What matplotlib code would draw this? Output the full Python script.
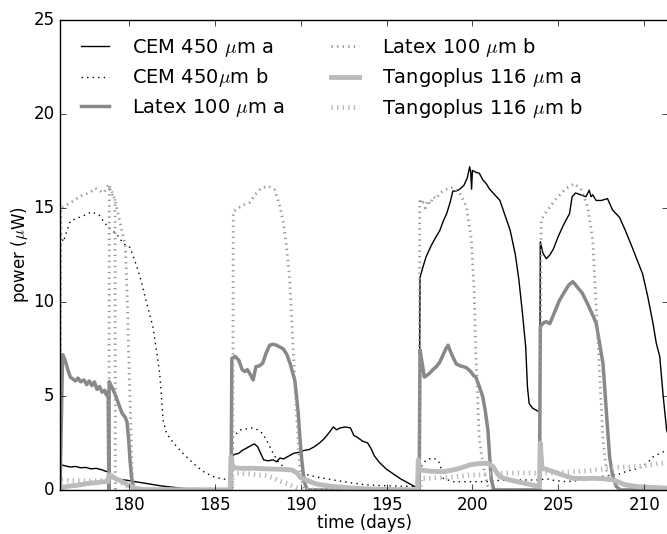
import numpy as np
import matplotlib
matplotlib.use('Agg')
import matplotlib.pyplot as plt

plt.style.use('classic')
plt.rcParams['font.family'] = 'DejaVu Sans'

nan = np.nan

# CEM 450 um a
t_cem_a = [176.0, 176.3, 176.6, 176.9, 177.2, 177.5, 177.8, 178.1, 178.4, 178.7, 178.8, 178.85,
           179.2, 179.6, 180.0, 180.5, 181.0, 181.5, 182.0, 182.5, 183.0, 183.5, 184.0, 185.9, 186.0,
           186.05, 186.2, 186.4, 186.6, 186.8, 187.0, 187.3, 187.5, 187.7, 187.85, 188.1, 188.4, 188.6,
           188.8, 189.0, 189.3, 189.6, 189.9, 190.2, 190.5, 190.8, 191.1, 191.4, 191.7, 191.9, 192.1,
           192.3, 192.6, 192.9, 193.1, 193.3, 193.6, 193.9, 194.1, 194.3, 194.6, 195.0, 195.4, 195.8,
           196.2, 196.6, 196.9, 196.95, 197.1, 197.3, 197.6, 197.9, 198.1, 198.3, 198.5, 198.7, 198.86,
           199.05, 199.26, 199.5, 199.7, 199.84, 199.9, 199.95, 200.0, 200.2, 200.4, 200.6, 200.8, 201.0,
           201.3, 201.6, 201.9, 202.2, 202.5, 202.7, 202.9, 203.1, 203.2, 203.3, 203.5, 203.8, 203.92,
           203.95, 204.1, 204.3, 204.5, 204.7, 205.0, 205.3, 205.65, 205.8, 206.0, 206.3, 206.6, 206.8,
           206.9, 207.0, 207.2, 207.5, 207.86, 208.15, 208.56, 208.9, 209.3, 209.6, 209.9, 210.2, 210.5,
           210.7, 210.9, 211.1, 211.3, 211.5]
p_cem_a = [1.35, 1.28, 1.22, 1.25, 1.18, 1.2, 1.12, 1.15, 1.08, 0.98, 1.0, 0.65,
           0.6, 0.55, 0.5, 0.42, 0.35, 0.27, 0.2, 0.15, 0.1, 0.05, 0.02, 0.0, 0.0,
           1.85, 1.9, 1.95, 2.1, 2.2, 2.3, 2.45, 2.3, 1.9, 1.6, 1.55, 1.6, 1.5,
           1.7, 1.65, 1.8, 1.95, 2.0, 2.1, 2.15, 2.3, 2.5, 2.75, 3.1, 3.35, 3.2,
           3.3, 3.35, 3.3, 2.9, 2.8, 2.6, 2.5, 2.2, 1.8, 1.45, 1.1, 0.85, 0.6,
           0.4, 0.2, 0.1, 11.3, 11.8, 12.4, 13.0, 13.5, 13.8, 14.3, 14.7, 15.3, 15.9,
           15.9, 16.0, 16.2, 16.6, 17.2, 16.9, 16.0, 17.0, 16.9, 16.85, 16.5, 16.3, 16.0,
           15.7, 15.4, 14.6, 13.8, 12.5, 11.2, 9.5, 7.6, 5.5, 4.6, 4.35, 4.2, 4.2,
           13.2, 12.6, 12.3, 12.5, 12.8, 13.5, 14.1, 14.7, 15.6, 15.8, 15.7, 15.6, 15.95,
           15.6, 15.7, 15.4, 15.4, 15.5, 14.9, 14.5, 13.8, 12.9, 12.2, 11.5, 10.3, 8.9,
           7.8, 7.1, 5.0, 3.2, 2.6]

# CEM 450 um b
t_cem_b = [176.02, 176.2, 176.4, 176.6, 176.97, 177.4, 177.84, 178.3, 178.6, 178.9, 179.3, 179.7,
           180.07, 180.35, 180.65, 181.0, 181.4, 181.6, 181.8, 181.9, 182.0, 182.2, 182.6, 183.2,
           183.75, 184.3, 184.9, 185.4, 185.9, 186.0, 186.08, 186.5, 186.9, 187.2, 187.5, 187.8,
           188.1, 188.4, 188.7, 189.0, 189.5, 190.0, 190.9, 191.9, 192.8, 193.8, 195.0, 196.7,
           196.9, 197.0, 197.3, 197.7, 197.95, 198.1, 198.3, 198.85, 200.8, 201.3, 202.5, 203.9,
           204.3, 204.8, 205.46, 206.2, 207.0, 207.8, 208.56, 209.0, 209.7, 210.2, 210.5, 210.9,
           211.3, 211.5]
p_cem_b = [13.6, 13.2, 13.8, 14.3, 14.45, 14.6, 14.8, 14.6, 14.2, 13.9, 13.6, 13.1,
           12.9, 12.2, 11.35, 10.1, 8.7, 7.5, 6.2, 5.0, 3.7, 3.0, 2.5, 1.9,
           1.42, 1.0, 0.71, 0.6, 0.53, 0.53, 2.84, 3.2, 3.25, 3.3, 3.2, 3.0,
           2.5, 1.95, 1.5, 1.24, 1.0, 0.89, 0.7, 0.53, 0.4, 0.27, 0.22, 0.18,
           0.18, 1.2, 1.6, 1.7, 1.6, 1.42, 0.62, 0.44, 0.44, 0.5, 0.53, 0.53,
           0.6, 0.5, 0.44, 0.5, 0.65, 0.75, 0.85, 1.0, 1.15, 1.45, 1.75, 1.95,
           2.1, 2.2]

# Latex 100 um a
t_lat_a = [176.0, 176.15, 176.3, 176.45, 176.6, 176.75, 176.9, 177.05, 177.2, 177.4, 177.55, 177.7,
           177.85, 178.0, 178.15, 178.3, 178.45, 178.6, 178.7, 178.8, 178.84, 178.86, 179.0, 179.2,
           179.4, 179.6, 179.8, 179.9, 180.0, 180.07, 180.17, 180.26, 180.4, 185.95, 186.0, 186.2,
           186.4, 186.6, 186.76, 186.9, 187.1, 187.24, 187.4, 187.6, 187.8, 188.0, 188.2, 188.4,
           188.6, 188.8, 189.0, 189.2, 189.4, 189.55, 189.66, 189.76, 189.86, 189.95, 190.05, 190.15,
           190.24, 190.4, 196.9, 196.95, 197.1, 197.2, 197.5, 197.7, 197.9, 198.1, 198.3, 198.45,
           198.58, 198.75, 198.9, 199.06, 199.3, 199.5, 199.65, 199.9, 200.05, 200.2, 200.4, 200.6,
           200.75, 200.9, 201.0, 201.1, 201.25, 203.9, 203.95, 204.15, 204.3, 204.5, 204.8, 205.07,
           205.4, 205.6, 205.84, 206.1, 206.4, 206.7, 207.0, 207.2, 207.4, 207.6, 207.7, 207.8,
           207.9, 207.98, 208.15, 208.37, 208.6, 211.5]
p_lat_a = [0.0, 7.2, 6.9, 6.4, 6.0, 5.9, 5.8, 5.95, 5.75, 5.85, 5.6, 5.8,
           5.55, 5.75, 5.35, 5.5, 5.2, 5.3, 5.05, 5.2, 0.0, 5.76, 5.5, 5.1,
           4.6, 4.1, 3.85, 3.6, 2.6, 1.6, 0.6, 0.18, 0.0, 0.0, 7.0, 7.1,
           6.9, 6.4, 6.3, 6.4, 6.1, 5.85, 6.56, 6.6, 6.75, 7.3, 7.7, 7.75,
           7.7, 7.6, 7.5, 7.2, 6.7, 6.2, 5.85, 5.0, 4.1, 2.9, 1.77, 0.9,
           0.35, 0.0, 0.0, 7.45, 6.6, 6.0, 6.2, 6.4, 6.56, 6.8, 7.2, 7.5,
           7.7, 7.3, 7.0, 6.7, 6.6, 6.55, 6.5, 6.3, 6.1, 6.0, 5.5, 4.96,
           4.2, 3.19, 1.8, 0.53, 0.0, 0.0, 8.7, 8.9, 8.95, 8.85, 9.5, 10.1,
           10.6, 10.9, 11.08, 10.8, 10.46, 9.9, 9.3, 8.87, 7.8, 6.7, 5.4, 4.08,
           2.8, 1.77, 0.8, 0.18, 0.0, 0.0]

# Latex 100 um b
t_lat_b = [176.0, 176.05, 176.3, 176.6, 176.87, 177.1, 177.4, 177.65, 177.85, 178.03, 178.2, 178.35,
           178.5, 178.65, 178.8, 179.0, 179.2, 179.22, nan,
           178.85, 178.87, 179.05, 179.2, 179.5, 179.8, 179.92, 180.0, 180.1, 180.18, 180.25, 180.4,
           186.05, 186.08, 186.37, 186.66, 187.05, 187.34, 187.7, 188.1, 188.5, 188.8, 189.0, 189.18,
           189.37, 189.56, 189.76, 189.95, 190.14, 190.3, 196.9, 196.93, 197.05, 197.12, 197.25, 197.4,
           197.55, 197.7, 197.9, 198.1, 198.5, 198.87, 199.26, 199.65, 199.94, 200.1, 200.2, 200.4,
           200.7, 200.9, 201.1, 203.95, 204.0, 204.3, 204.88, 205.46, 205.94, 206.33, 206.7, 207.0,
           207.2, 207.4, 207.6, 207.8, 208.1, 208.37, 208.7, 211.5]
p_lat_b = [0.0, 15.0, 15.1, 15.3, 15.4, 15.6, 15.7, 15.8, 15.9, 16.05, 16.0, 15.9,
           15.8, 15.95, 16.2, 15.8, 15.4, 0.0, nan,
           0.0, 16.2, 15.8, 15.4, 14.2, 13.0, 10.0, 7.0, 4.0, 1.5, 0.2, 0.0,
           0.0, 14.8, 15.0, 15.16, 15.3, 15.7, 16.05, 16.17, 15.96, 15.07, 14.2, 12.94,
           11.17, 7.6, 4.08, 1.24, 0.18, 0.0, 0.0, 15.5, 15.2, 15.3, 15.0, 15.4,
           15.2, 15.6, 15.5, 15.8, 16.0, 16.1, 15.8, 15.07, 13.3, 10.6, 7.1, 2.66,
           0.9, 0.2, 0.0, 0.0, 14.36, 14.8, 15.5, 16.05, 16.3, 15.96, 15.07, 13.3,
           9.75, 6.2, 2.66, 1.06, 0.5, 0.18, 0.0, 0.0]

# Tangoplus 116 um a
t_tan_a = [176.0, 176.5, 177.0, 177.65, 178.2, 178.6, 178.8, 178.85, 179.0, 179.2, 179.5, 179.8,
           180.1, 180.36, 180.8, 185.9, 185.95, 186.05, 186.5, 187.3, 188.0, 188.8, 189.5, 189.8,
           190.0, 190.4, 190.8, 191.2, 191.9, 193.15, 194.0, 196.8, 196.85, 196.95, 197.5, 198.3,
           198.8, 199.26, 199.84, 200.3, 200.8, 201.0, 201.2, 201.4, 201.6, 201.9, 202.2, 202.8,
           203.4, 203.9, 203.95, 204.05, 204.3, 204.7, 205.3, 205.84, 206.5, 207.0, 207.6, 208.2,
           208.6, 208.9, 209.6, 210.3, 211.5]
p_tan_a = [0.1, 0.2, 0.25, 0.35, 0.4, 0.44, 0.45, 0.8, 0.75, 0.62, 0.5, 0.35,
           0.2, 0.09, 0.02, 0.0, 1.77, 1.2, 1.15, 1.15, 1.12, 1.1, 1.06, 0.9,
           0.65, 0.5, 0.35, 0.27, 0.18, 0.09, 0.05, 0.0, 1.6, 1.06, 1.0, 0.97,
           1.05, 1.15, 1.33, 1.4, 1.42, 1.38, 1.24, 0.95, 0.71, 0.6, 0.53, 0.4,
           0.28, 0.18, 2.5, 1.15, 1.1, 0.97, 0.78, 0.62, 0.6, 0.62, 0.6, 0.53,
           0.38, 0.27, 0.18, 0.14, 0.09]

# Tangoplus 116 um b
t_tan_b = [176.0, 176.05, 176.5, 177.0, 177.5, 178.0, 178.5, 178.8, 179.0, 179.3, 179.6, 179.9,
           180.2, 180.5, 186.0, 186.05, 186.5, 187.0, 187.5, 188.0, 188.4, 188.7, 189.0, 189.3,
           189.8, 190.1, 196.95, 197.0, 197.5, 198.0, 198.5, 199.0, 199.5, 199.9, 200.5, 201.0,
           201.5, 202.5, 203.9, 204.5, 205.5, 206.5, 207.5, 208.5, 209.7, 210.5, 210.9, 211.5]
p_tan_b = [0.0, 0.55, 0.5, 0.5, 0.48, 0.5, 0.5, 0.55, 0.6, 0.5, 0.35, 0.2,
           0.09, 0.0, 0.0, 0.9, 0.88, 0.85, 0.8, 0.75, 0.65, 0.5, 0.4, 0.3,
           0.1, 0.0, 0.0, 0.62, 0.62, 0.65, 0.65, 0.7, 0.75, 0.8, 0.8, 0.85,
           0.88, 0.9, 0.9, 0.9, 0.95, 1.0, 1.1, 1.2, 1.24, 1.35, 1.42, 1.45]

fig = plt.figure(figsize=(6.67, 5.34), dpi=100)
ax = fig.add_axes([0.09, 0.0825, 0.912, 0.88])

dot = (0, (1, 3))
ax.plot(t_cem_a, p_cem_a, color='k', lw=1, label=r'CEM 450 $\mu$m a')
ax.plot(t_cem_b, p_cem_b, color='k', lw=1, ls=dot, label=r'CEM 450$\mu$m b')
ax.plot(t_lat_a, p_lat_a, color='#888888', lw=2.5, label=r'Latex 100 $\mu$m a')
ax.plot(t_lat_b, p_lat_b, color='#999999', lw=2, ls=dot, label=r'Latex 100 $\mu$m b')
ax.plot(t_tan_a, p_tan_a, color='#bbbbbb', lw=3.5, label=r'Tangoplus 116 $\mu$m a')
ax.plot(t_tan_b, p_tan_b, color='#bbbbbb', lw=3.5, ls=dot, label=r'Tangoplus 116 $\mu$m b')

ax.set_xlim(176, 211.4)
ax.set_ylim(0, 25)
ax.set_xticks([180, 185, 190, 195, 200, 205, 210])
ax.set_yticks([0, 5, 10, 15, 20, 25])
ax.tick_params(axis='x', pad=4)
ax.set_xlabel('time (days)', labelpad=0)
ax.set_ylabel(r'power ($\mu$W)', labelpad=2)
ax.legend(loc='upper left', ncol=2, frameon=False, fontsize=14,
          labelspacing=0.4, columnspacing=2.1, handlelength=2.0,
          handletextpad=0.9, borderaxespad=0.4)

fig.savefig('out.png', dpi=100, facecolor='white')
